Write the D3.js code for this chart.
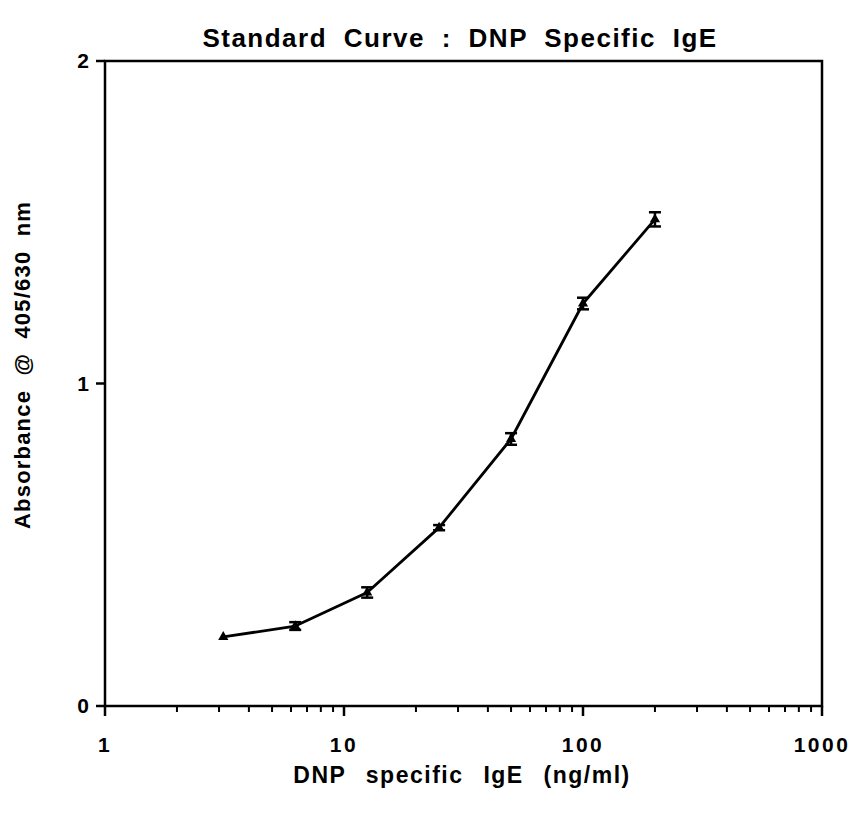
<!DOCTYPE html>
<html>
<head>
<meta charset="utf-8">
<script src="https://cdn.jsdelivr.net/npm/d3@7"></script>
<style>
  body { margin: 0; background: #fff; }
  svg { font-family: 'Liberation Sans', Arial, sans-serif; font-weight: bold; }
</style>
</head>
<body>
<svg id="chart"></svg>
<script>
// dilution series (ng/ml) and mean absorbance with error
const conc = [3.125, 6.25, 12.5, 25, 50, 100, 200];
const absorbance = [0.214, 0.248, 0.352, 0.553, 0.828, 1.248, 1.509];
const errors = [0.004, 0.012, 0.016, 0.008, 0.018, 0.018, 0.022];
const xTicks = [1, 10, 100, 1000];
const yTicks = [0, 1, 2];

const width = 857, height = 815;
const margin = { top: 61, right: 35, bottom: 109, left: 105 };

const svg = d3.select('#chart')
  .attr('width', width)
  .attr('height', height);

const x = d3.scaleLog()
  .domain([1, 1000])
  .range([margin.left, width - margin.right]);

const y = d3.scaleLinear()
  .domain([0, 2])
  .range([height - margin.bottom, margin.top]);

// minor log ticks 2..9 per decade
const minor = [];
[1, 10, 100].forEach(d => { for (let k = 2; k <= 9; k++) minor.push(d * k); });

const gx = svg.append('g').attr('transform', `translate(0,${y(0)})`);
gx.selectAll('line.minor')
  .data(minor)
  .join('line')
  .attr('x1', d => x(d)).attr('x2', d => x(d))
  .attr('y1', 0).attr('y2', 6)
  .attr('stroke', '#000').attr('stroke-width', 2);
gx.selectAll('line.major')
  .data(xTicks)
  .join('line')
  .attr('x1', d => x(d)).attr('x2', d => x(d))
  .attr('y1', 0).attr('y2', 10)
  .attr('stroke', '#000').attr('stroke-width', 2.5);
gx.selectAll('text')
  .data(xTicks)
  .join('text')
  .attr('x', d => x(d))
  .attr('y', 46)
  .attr('text-anchor', 'middle')
  .attr('font-size', 21)
  .attr('letter-spacing', 2.5)
  .text(d => d);

const gy = svg.append('g').attr('transform', `translate(${x(1)},0)`);
gy.selectAll('line')
  .data(yTicks)
  .join('line')
  .attr('x1', -9).attr('x2', 0)
  .attr('y1', d => y(d)).attr('y2', d => y(d))
  .attr('stroke', '#000').attr('stroke-width', 2.5);
gy.selectAll('text')
  .data(yTicks)
  .join('text')
  .attr('x', -16)
  .attr('y', d => y(d))
  .attr('dy', '0.35em')
  .attr('text-anchor', 'end')
  .attr('font-size', 21)
  .text(d => d);

// frame
svg.append('rect')
  .attr('x', x(1)).attr('y', y(2))
  .attr('width', x(1000) - x(1))
  .attr('height', y(0) - y(2))
  .attr('fill', 'none')
  .attr('stroke', '#000')
  .attr('stroke-width', 2.5);

const data = conc.map((c, i) => ({ c, v: absorbance[i], e: errors[i] }));

svg.append('path')
  .datum(data)
  .attr('fill', 'none')
  .attr('stroke', '#000')
  .attr('stroke-width', 2.8)
  .attr('stroke-linejoin', 'round')
  .attr('d', d3.line()
    .x(d => x(d.c))
    .y(d => y(d.v)));

// error bars
const eb = svg.append('g').attr('stroke', '#000').attr('stroke-width', 2.5);
eb.selectAll('line.v')
  .data(data)
  .join('line')
  .attr('x1', d => x(d.c)).attr('x2', d => x(d.c))
  .attr('y1', d => y(d.v + d.e)).attr('y2', d => y(d.v - d.e));
eb.selectAll('line.top')
  .data(data.filter(d => d.e > 0.005))
  .join('line')
  .attr('x1', d => x(d.c) - 6).attr('x2', d => x(d.c) + 6)
  .attr('y1', d => y(d.v + d.e)).attr('y2', d => y(d.v + d.e));
eb.selectAll('line.bot')
  .data(data.filter(d => d.e > 0.005))
  .join('line')
  .attr('x1', d => x(d.c) - 6).attr('x2', d => x(d.c) + 6)
  .attr('y1', d => y(d.v - d.e)).attr('y2', d => y(d.v - d.e));

// triangle markers
svg.append('g')
  .selectAll('path')
  .data(data)
  .join('path')
  .attr('transform', d => `translate(${x(d.c)},${y(d.v)})`)
  .attr('d', d3.symbol(d3.symbolTriangle, 45))
  .attr('fill', '#000');

svg.append('text')
  .attr('x', 460).attr('y', 47)
  .attr('text-anchor', 'middle')
  .attr('font-size', 26)
  .attr('letter-spacing', 1.5)
  .attr('word-spacing', 8)
  .text('Standard Curve : DNP Specific IgE');

svg.append('text')
  .attr('x', 462).attr('y', 783)
  .attr('text-anchor', 'middle')
  .attr('font-size', 23)
  .attr('letter-spacing', 1.5)
  .attr('word-spacing', 12)
  .text('DNP specific IgE (ng/ml)');

svg.append('text')
  .attr('transform', 'translate(30,365) rotate(-90)')
  .attr('text-anchor', 'middle')
  .attr('font-size', 22)
  .attr('letter-spacing', 1.2)
  .attr('word-spacing', 7)
  .text('Absorbance @ 405/630 nm');
</script>
</body>
</html>
